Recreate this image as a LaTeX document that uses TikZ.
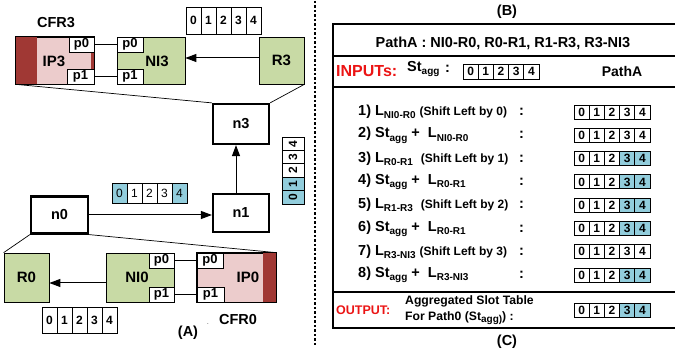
\documentclass[tikz,border=0pt]{standalone}
\usepackage{fontspec}
\setmainfont{Liberation Sans}
\usetikzlibrary{arrows.meta,calc}
\definecolor{ngreen}{RGB}{200,218,165}
\definecolor{npink}{RGB}{236,204,204}
\definecolor{ndark}{RGB}{160,56,52}
\definecolor{sblue}{RGB}{146,205,220}
\definecolor{ired}{RGB}{235,20,20}
\newcommand\fs[1]{\fontsize{#1}{#1}\selectfont}
\newcommand\sbx[1]{\raisebox{-0.4ex}{\fs{10}#1}}
\newcommand\slotrow[7]{%
  \foreach \i/\c in {#7}{%
    \node[cellbox,minimum width=#4,minimum height=#5,font=#6,fill=\c] (#1\i) at ({#2+#4*\i+#4/2},{#3}) {\i};
  }}
\newcommand\steprow[3]{%
  \node[rowtxt] (r#1) at (358,{112+23.3*(#1-1)}) {#2};
  \node[rowtxt] (rc#1) at (519,{112+23.3*(#1-1)}) {:};
  \slotrow{r#1c}{574}{112+23.3*(#1-1)}{15.2}{14}{\bfseries\fs{12}}{#3}}
\begin{document}
\begin{tikzpicture}[x=1pt,y=-1pt,
  cellbox/.style={draw,inner sep=0pt,line width=0.8pt,text=black},
  lbl/.style={inner sep=0pt,font=\bfseries\fs{14.5}},
  greenbox/.style={draw,fill=ngreen,line width=0.7pt,inner sep=0pt,font=\bfseries\fs{15}},
  pinkbox/.style={draw,fill=npink,line width=0.7pt,inner sep=0pt},
  portbox/.style={draw,fill=white,line width=0.7pt,inner sep=0pt,minimum height=15,font=\bfseries\fs{13}},
  nbox/.style={draw,line width=2.2pt,fill=white,inner sep=0pt,font=\bfseries\fs{14.5}},
  thinline/.style={line width=0.7pt},
  arr/.style={line width=1pt,-{Triangle[length=11pt,width=8pt]}},
  rowtxt/.style={anchor=west,inner sep=0pt,font=\bfseries\fs{14.5}},
]
\useasboundingbox (0,0) rectangle (675,355);

% ---------- top: CFR3 ----------
\node[pinkbox,minimum width=78,minimum height=47] (IP3) at (55,60.5) {};
\fill[ndark] (IP3.north west) rectangle ($(IP3.south west)+(21,0)$);
\fill[ndark] (91,52) rectangle (94,69);
\draw[thinline] (IP3.north west) rectangle (IP3.south east);
\node[portbox,minimum width=25] (ip3p0) at (81.5,44.5) {p0};
\node[portbox,minimum width=27] (ip3p1) at (80.5,76.5) {p1};
\node[lbl,font=\bfseries\fs{15}] (ip3t) at (54,61) {IP3};
\node[lbl] (cfr3) at (56,23) {CFR3};

\node[greenbox,minimum width=68,minimum height=47] (NI3) at (151,60.5) {};
\node[portbox,minimum width=26] (ni3p0) at (130,44.5) {p0};
\node[portbox,minimum width=26] (ni3p1) at (130,76.5) {p1};
\node[lbl,font=\bfseries\fs{15}] (ni3t) at (157,61) {NI3};
\node[greenbox,minimum width=45,minimum height=47] (R3) at (281.5,60.5) {R3};

\draw[thinline] (ip3p0.east) -- (ni3p0.west);
\draw[thinline] (ip3p1.east) -- (ni3p1.west);
\draw[arr] ([yshift=2.5pt]R3.west) -- ([yshift=2.5pt]NI3.east);

\slotrow{tt}{186}{20.5}{15}{27}{\bfseries\fs{12}}{0/white,1/white,2/white,3/white,4/white}

% ---------- routers ----------
\node[nbox,minimum width=56,minimum height=40] (n3) at (241,124) {n3};
\node[nbox,minimum width=56,minimum height=38] (n1) at (241,213) {n1};
\node[nbox,minimum width=57,minimum height=37] (n0) at (59.5,215) {n0};

\draw[thinline] (IP3.south west) -- (n3.north west);
\draw[thinline] (R3.south east) -- (n3.north east);

\draw[arr] (n0.east) -- (n0.east -| n1.west);
\draw[arr] ([xshift=-5pt]n1.north) -- ([xshift=-5pt]n3.south);

\slotrow{mt}{112}{193}{15}{20}{\fs{12}}{0/sblue,1/white,2/white,3/white,4/sblue}
\foreach \i/\c in {0/sblue,1/sblue,2/white,3/white,4/white}{
  \node[cellbox,rotate=90,minimum width=13.4,minimum height=22,font=\bfseries\fs{12},fill=\c] (vt\i) at (293,{204-13.4*(\i+0.5)}) {\i};
}

% ---------- bottom: CFR0 ----------
\node[greenbox,minimum width=45,minimum height=49] (R0) at (26.5,277.5) {R0};
\node[greenbox,minimum width=68,minimum height=49] (NI0) at (140,277.5) {};
\node[portbox,minimum width=25] (ni0p0) at (161.5,260.5) {p0};
\node[portbox,minimum width=25] (ni0p1) at (161.5,294.5) {p1};
\node[lbl,font=\bfseries\fs{15}] (ni0t) at (137,277) {NI0};

\node[pinkbox,minimum width=79,minimum height=49] (IP0) at (236.5,277.5) {};
\fill[ndark] ($(IP0.north east)+(-13,0)$) rectangle (IP0.south east);
\draw[thinline] (IP0.north west) rectangle (IP0.south east);
\node[portbox,minimum width=26] (ip0p0) at (210,260.5) {p0};
\node[portbox,minimum width=27] (ip0p1) at (210.5,294.5) {p1};
\node[lbl,font=\bfseries\fs{15}] (ip0t) at (248,277) {IP0};

\draw[thinline] (ni0p0.east) -- (ip0p0.west);
\draw[thinline] (ni0p1.east) -- (ip0p1.west);
\draw[arr] ([yshift=-5.5pt]NI0.west) -- ([yshift=-5.5pt]R0.east);

\draw[thinline] (n0.south west) -- (R0.north west);
\draw[thinline] (n0.south east) -- (IP0.north east);

\slotrow{bt}{42}{320}{15}{26}{\bfseries\fs{12}}{0/white,1/white,2/white,3/white,4/white}
\node[lbl] (A) at (188,333) {(A)};
\node[inner sep=0pt,font=\fs{6}] (dot) at (208,324) {.};
\node[lbl] (cfr0) at (238,320) {CFR0};

% ---------- separator ----------
\coordinate (septop) at (315,1);
\coordinate (sepbot) at (315,345);
\draw[line width=2.2pt,dash pattern=on 2.5pt off 2pt] (septop) -- (sepbot);

% ---------- right panel ----------
\node[lbl] (B) at (507,12) {(B)};
\draw[line width=1.3pt] (680,24) -- (333,24) -- (333,328) -- (680,328);
\draw[line width=1.3pt] (333,56) -- (680,56);
\draw[line width=1.3pt] (333,87) -- (680,87);
\draw[line width=1.3pt] (333,292) -- (680,292);

\node[lbl] (title) at (503,43) {PathA : NI0-R0, R0-R1, R1-R3, R3-NI3};
\node[lbl,anchor=west,text=ired,font=\bfseries\fs{16}] (inp) at (336,71.5) {INPUTs:};
\node[rowtxt] (stagg) at (407,69) {St\sbx{agg}};
\node[rowtxt] (stcol) at (445,69) {:};
\slotrow{it}{463}{71.5}{15.2}{15}{\bfseries\fs{12}}{0/white,1/white,2/white,3/white,4/white}
\node[lbl,font=\bfseries\fs{14}] (pa) at (622,71) {PathA};

\steprow{1}{1) L\sbx{NI0-R0} {\fs{12}(Shift Left by 0)}}{0/white,1/white,2/white,3/white,4/white}
\steprow{2}{2) St\sbx{agg} + \ L\sbx{NI0-R0}}{0/white,1/white,2/white,3/white,4/white}
\steprow{3}{3) L\sbx{R0-R1} \ {\fs{12}(Shift Left by 1)}}{0/white,1/white,2/white,3/sblue,4/sblue}
\steprow{4}{4) St\sbx{agg} + \ L\sbx{R0-R1}}{0/white,1/white,2/white,3/sblue,4/sblue}
\steprow{5}{5) L\sbx{R1-R3} \ {\fs{12}(Shift Left by 2)}}{0/white,1/white,2/white,3/sblue,4/sblue}
\steprow{6}{6) St\sbx{agg} + \ L\sbx{R0-R1}}{0/white,1/white,2/white,3/sblue,4/sblue}
\steprow{7}{7) L\sbx{R3-NI3} {\fs{12}(Shift Left by 3)}}{0/white,1/white,2/white,3/white,4/white}
\steprow{8}{8) St\sbx{agg} + \ L\sbx{R3-NI3}}{0/white,1/white,2/white,3/sblue,4/sblue}

\node[anchor=west,inner sep=0pt,text=ired,font=\bfseries\fs{12.5}] (outp) at (336,310) {OUTPUT:};
\node[anchor=west,inner sep=0pt,align=left,font=\bfseries\fontsize{12.2}{16}\selectfont] (agg) at (405,310) {Aggregated Slot Table\\For Path0 (St\sbx{agg)}) :};
\slotrow{ot}{574}{310}{15.2}{14}{\bfseries\fs{12}}{0/white,1/white,2/white,3/sblue,4/sblue}
\node[lbl] (C) at (507,342) {(C)};
\end{tikzpicture}
\end{document}
